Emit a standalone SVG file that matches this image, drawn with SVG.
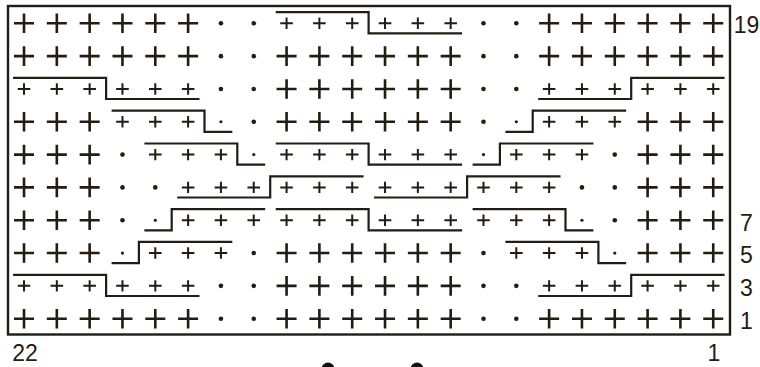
<svg xmlns="http://www.w3.org/2000/svg" xmlns:xlink="http://www.w3.org/1999/xlink" width="760" height="367" viewBox="0 0 760 367">
<style>
.ink{stroke:#221c12;fill:none;stroke-linecap:butt}
.big{stroke-width:2.6}
.sm{stroke-width:2}
.dot{fill:#221c12}
.cab{stroke:#221c12;stroke-width:2.2;fill:none;stroke-linejoin:miter}
.lbl{font-family:"Liberation Sans",Arial,sans-serif;font-size:23px;fill:#221c12;text-anchor:middle}
</style>
<defs>
<path id="P" class="ink big" d="M-10 0H10M0-9.8V9.8"/>
<path id="p" class="ink sm" d="M-6.3 0H6.3M0-5.7V5.7"/>
<circle id="D" class="dot" r="2.3"/>
<circle id="d" class="dot" r="1.6"/>
<g id="plain">
<use href="#P" x="24.01"/><use href="#P" x="56.83"/><use href="#P" x="89.65"/><use href="#P" x="122.47"/><use href="#P" x="155.29"/><use href="#P" x="188.11"/>
<use href="#D" x="220.93"/><use href="#D" x="253.75"/>
<use href="#P" x="286.57"/><use href="#P" x="319.39"/><use href="#P" x="352.21"/><use href="#P" x="385.03"/><use href="#P" x="417.85"/><use href="#P" x="450.67"/>
<use href="#D" x="483.49"/><use href="#D" x="516.31"/>
<use href="#P" x="549.13"/><use href="#P" x="581.95"/><use href="#P" x="614.77"/><use href="#P" x="647.59"/><use href="#P" x="680.41"/><use href="#P" x="713.23"/>
</g>
<g id="edge">
<use href="#p" x="24.01"/><use href="#p" x="56.83"/><use href="#p" x="89.65"/><use href="#p" x="122.47"/><use href="#p" x="155.29"/><use href="#p" x="188.11"/>
<use href="#D" x="220.93"/><use href="#D" x="253.75"/>
<use href="#P" x="286.57"/><use href="#P" x="319.39"/><use href="#P" x="352.21"/><use href="#P" x="385.03"/><use href="#P" x="417.85"/><use href="#P" x="450.67"/>
<use href="#D" x="483.49"/><use href="#D" x="516.31"/>
<use href="#p" x="549.13"/><use href="#p" x="581.95"/><use href="#p" x="614.77"/><use href="#p" x="647.59"/><use href="#p" x="680.41"/><use href="#p" x="713.23"/>
</g>
</defs>
<rect width="760" height="367" fill="#ffffff"/>
<g id="frame"><rect x="8" y="6" width="722" height="328.5" fill="none" stroke="#221c12" stroke-width="2.4"/></g>
<g id="stitches">
<g id="row19" transform="translate(0,23.31)">
<use href="#P" x="24.01"/><use href="#P" x="56.83"/><use href="#P" x="89.65"/><use href="#P" x="122.47"/><use href="#P" x="155.29"/><use href="#P" x="188.11"/>
<use href="#D" x="220.93"/><use href="#D" x="253.75"/>
<use href="#p" x="286.57"/><use href="#p" x="319.39"/><use href="#p" x="352.21"/><use href="#p" x="385.03"/><use href="#p" x="417.85"/><use href="#p" x="450.67"/>
<use href="#D" x="483.49"/><use href="#D" x="516.31"/>
<use href="#P" x="549.13"/><use href="#P" x="581.95"/><use href="#P" x="614.77"/><use href="#P" x="647.59"/><use href="#P" x="680.41"/><use href="#P" x="713.23"/>
</g>
<use id="row17" href="#plain" y="56.13"/>
<use id="row15" href="#edge" y="88.95"/>
<g id="row13" transform="translate(0,121.77)">
<use href="#P" x="24.01"/><use href="#P" x="56.83"/><use href="#P" x="89.65"/>
<use href="#p" x="122.47"/><use href="#p" x="155.29"/><use href="#p" x="188.11"/>
<use href="#d" x="220.93"/><use href="#D" x="253.75"/>
<use href="#P" x="286.57"/><use href="#P" x="319.39"/><use href="#P" x="352.21"/><use href="#P" x="385.03"/><use href="#P" x="417.85"/><use href="#P" x="450.67"/>
<use href="#D" x="483.49"/><use href="#d" x="516.31"/>
<use href="#p" x="549.13"/><use href="#p" x="581.95"/><use href="#p" x="614.77"/>
<use href="#P" x="647.59"/><use href="#P" x="680.41"/><use href="#P" x="713.23"/>
</g>
<g id="row11" transform="translate(0,154.59)">
<use href="#P" x="24.01"/><use href="#P" x="56.83"/><use href="#P" x="89.65"/>
<use href="#D" x="122.47"/>
<use href="#p" x="155.29"/><use href="#p" x="188.11"/><use href="#p" x="220.93"/>
<use href="#d" x="253.75"/>
<use href="#p" x="286.57"/><use href="#p" x="319.39"/><use href="#p" x="352.21"/><use href="#p" x="385.03"/><use href="#p" x="417.85"/><use href="#p" x="450.67"/>
<use href="#d" x="483.49"/>
<use href="#p" x="516.31"/><use href="#p" x="549.13"/><use href="#p" x="581.95"/>
<use href="#D" x="614.77"/>
<use href="#P" x="647.59"/><use href="#P" x="680.41"/><use href="#P" x="713.23"/>
</g>
<g id="row9" transform="translate(0,187.41)">
<use href="#P" x="24.01"/><use href="#P" x="56.83"/><use href="#P" x="89.65"/>
<use href="#D" x="122.47"/><use href="#D" x="155.29"/>
<use href="#p" x="188.11"/><use href="#p" x="220.93"/><use href="#p" x="253.75"/>
<use href="#p" x="286.57"/><use href="#p" x="319.39"/><use href="#p" x="352.21"/><use href="#p" x="385.03"/><use href="#p" x="417.85"/><use href="#p" x="450.67"/>
<use href="#p" x="483.49"/><use href="#p" x="516.31"/><use href="#p" x="549.13"/>
<use href="#D" x="581.95"/><use href="#D" x="614.77"/>
<use href="#P" x="647.59"/><use href="#P" x="680.41"/><use href="#P" x="713.23"/>
</g>
<g id="row7" transform="translate(0,220.23)">
<use href="#P" x="24.01"/><use href="#P" x="56.83"/><use href="#P" x="89.65"/>
<use href="#D" x="122.47"/><use href="#d" x="155.29"/>
<use href="#p" x="188.11"/><use href="#p" x="220.93"/><use href="#p" x="253.75"/>
<use href="#p" x="286.57"/><use href="#p" x="319.39"/><use href="#p" x="352.21"/><use href="#p" x="385.03"/><use href="#p" x="417.85"/><use href="#p" x="450.67"/>
<use href="#p" x="483.49"/><use href="#p" x="516.31"/><use href="#p" x="549.13"/>
<use href="#d" x="581.95"/><use href="#D" x="614.77"/>
<use href="#P" x="647.59"/><use href="#P" x="680.41"/><use href="#P" x="713.23"/>
</g>
<g id="row5" transform="translate(0,253.05)">
<use href="#P" x="24.01"/><use href="#P" x="56.83"/><use href="#P" x="89.65"/>
<use href="#d" x="122.47"/>
<use href="#p" x="155.29"/><use href="#p" x="188.11"/><use href="#p" x="220.93"/>
<use href="#D" x="253.75"/>
<use href="#P" x="286.57"/><use href="#P" x="319.39"/><use href="#P" x="352.21"/><use href="#P" x="385.03"/><use href="#P" x="417.85"/><use href="#P" x="450.67"/>
<use href="#D" x="483.49"/>
<use href="#p" x="516.31"/><use href="#p" x="549.13"/><use href="#p" x="581.95"/>
<use href="#d" x="614.77"/>
<use href="#P" x="647.59"/><use href="#P" x="680.41"/><use href="#P" x="713.23"/>
</g>
<use id="row3" href="#edge" y="285.87"/>
<use id="row1" href="#plain" y="318.69"/>
</g>
<g id="cables" class="cab">
<path d="M275.7 12.2H368.6V33.4H462.1"/>
<path d="M13.1 77.8H106.1V99H199.5"/>
<path d="M538.2 99H631.2V77.8H724.6"/>
<path d="M111.6 110.7H204.5V131.9H232.3"/>
<path d="M505.4 131.9H532.7V110.7H626.2"/>
<path d="M144.4 143.5H237.3V164.7H265.2"/>
<path d="M275.7 143.5H368.6V164.7H462.1"/>
<path d="M472.6 164.7H499.9V143.5H593.4"/>
<path d="M177.2 197.5H270.2V176.3H363.6"/>
<path d="M374.1 197.5H467.1V176.3H560.5"/>
<path d="M144.4 230.3H171.7V209.1H265.2"/>
<path d="M275.7 209.1H368.6V230.3H462.1"/>
<path d="M472.6 209.1H565.5V230.3H593.4"/>
<path d="M111.6 263.1H138.9V241.9H232.3"/>
<path d="M505.4 241.9H598.4V263.1H626.2"/>
<path d="M13.1 274.8H106.1V296H199.5"/>
<path d="M538.2 296H631.2V274.8H724.6"/>
</g>
<g id="labels" class="lbl">
<text x="746.5" y="33.3">19</text>
<text x="746.5" y="231.3">7</text>
<text x="746.5" y="263.3">5</text>
<text x="746.5" y="295.9">3</text>
<text x="746.5" y="328.5">1</text>
<text x="25" y="361">22</text>
<text x="713.8" y="361">1</text>
</g>
<g id="mark" fill="#111111">
<circle cx="328" cy="369" r="6.5"/>
<circle cx="417" cy="369" r="6.5"/>
</g>
</svg>
